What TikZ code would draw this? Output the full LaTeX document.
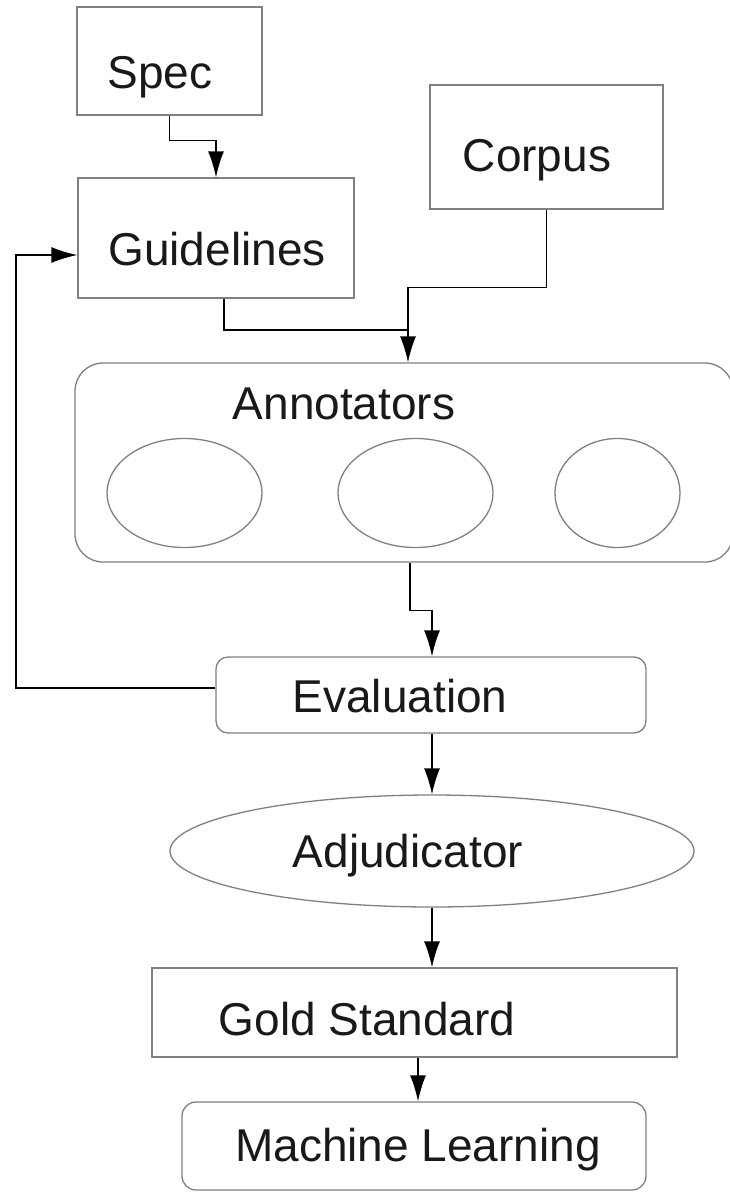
\documentclass[tikz,border=0pt]{standalone}
\usepackage{fontspec}
\setmainfont{Liberation Sans}
\usetikzlibrary{arrows.meta,shapes.geometric,calc}
\begin{document}
\begin{tikzpicture}[x=1pt,y=-1pt,
  box/.style={draw=black!50,line width=1.3pt,rectangle,inner sep=0pt},
  rbox/.style={box,rounded corners=#1},
  oval/.style={draw=black!50,line width=1.3pt,ellipse,inner sep=0pt},
  lbl/.style={anchor=base,inner sep=0pt,text=black!90,font=\fontsize{46}{52}\selectfont},
  arr/.style={draw=black,line width=1.5pt,-{Latex[length=26pt,width=16pt]}},
  ln/.style={draw=black,line width=1.5pt}]
\useasboundingbox (0,0) rectangle (729,1192);
\fill[white] (0,0) rectangle (729,1192);
% boxes
\node[box,minimum width=185pt,minimum height=108pt] (spec) at (169.5,61) {};
\node[box,minimum width=233pt,minimum height=124pt] (corpus) at (546.5,147) {};
\node[box,minimum width=276pt,minimum height=120pt] (guide) at (216,238) {};
\node[rbox=28pt,minimum width=658pt,minimum height=199pt] (annot) at (404,462.5) {};
\node[oval,minimum width=155pt,minimum height=109pt] (a1) at (184.5,493) {};
\node[oval,minimum width=155pt,minimum height=109pt] (a2) at (415.5,493) {};
\node[oval,minimum width=125pt,minimum height=109pt] (a3) at (617.5,493) {};
\node[rbox=12pt,minimum width=430pt,minimum height=76pt] (eval) at (431,695) {};
\node[oval,minimum width=524pt,minimum height=112pt] (adj) at (432,851) {};
\node[box,minimum width=525pt,minimum height=89pt] (gold) at (414.5,1012.5) {};
\node[rbox=14pt,minimum width=464pt,minimum height=88pt] (ml) at (414,1146) {};
% labels
\node[lbl] (tspec) at (160,88) {Spec};
\node[lbl] (tcorpus) at (537,171) {Corpus};
\node[lbl] (tguide) at (217,265) {Guidelines};
\node[lbl] (tannot) at (344,419) {Annotators};
\node[lbl] (teval) at (400,712) {Evaluation};
\node[lbl] (tadj) at (408,867) {Adjudicator};
\node[lbl] (tgold) at (367,1035) {Gold Standard};
\node[lbl] (tml) at (418,1161) {Machine Learning};
% connectors
\coordinate (join) at (408,330);
\coordinate (fb) at (16,688);
\draw[arr] (spec.south) -- ++(0,25) -| (guide.north);
\draw[arr] (corpus.south) -- ++(0,78) -| ([xshift=4pt]annot.north);
\draw[ln] ([xshift=8pt]guide.south) |- (join);
\draw[arr] ([xshift=6pt]annot.south) -- ++(0,48) -| ([xshift=1pt]eval.north);
\draw[arr] ([yshift=7pt]eval.west) -- (fb) |- ([yshift=-17pt]guide.west);
\draw[arr] ([xshift=1pt]eval.south) -- (adj.north);
\draw[arr] (adj.south) -- (adj.south |- gold.north);
\draw[arr] ([xshift=3.5pt]gold.south) -- ([xshift=4pt]ml.north);
\end{tikzpicture}
\end{document}
